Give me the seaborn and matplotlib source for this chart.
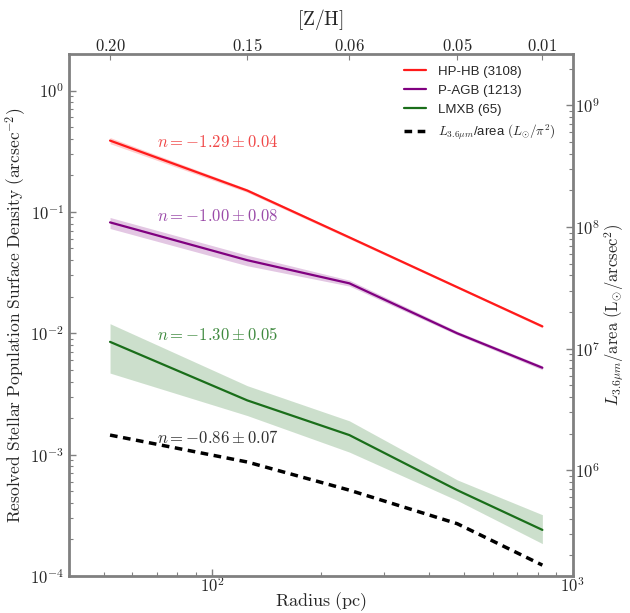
import numpy as np
import pandas as pd
import matplotlib
matplotlib.use('Agg')
import matplotlib.pyplot as plt
import seaborn as sns
from matplotlib.ticker import NullFormatter, NullLocator, FuncFormatter

# 数据
radius = [52, 125, 240, 478, 824]
zh_labels = ['0.20', '0.15', '0.06', '0.05', '0.01']

hphb = [0.387, 0.150, 0.0617, 0.024, 0.0114]
hphb_lo = [0.365, 0.145, 0.060, 0.0235, 0.0111]
hphb_hi = [0.410, 0.155, 0.063, 0.0245, 0.0117]

pagb = [0.082, 0.040, 0.0258, 0.0100, 0.0052]
pagb_lo = [0.073, 0.036, 0.0245, 0.0097, 0.0050]
pagb_hi = [0.090, 0.044, 0.0274, 0.0104, 0.0054]

lmxb = [0.0085, 0.0028, 0.00145, 0.00051, 0.00024]
lmxb_lo = [0.0047, 0.0021, 0.00105, 0.00042, 0.000185]
lmxb_hi = [0.0120, 0.0037, 0.0019, 0.00062, 0.00032]

lum = [0.00145, 0.00087, 0.00051, 0.00027, 0.000123]

slopes = ['$n=-1.29\\pm0.04$', '$n=-1.00\\pm0.08$', '$n=-1.30\\pm0.05$', '$n=-0.86\\pm0.07$']
slope_y = [0.38, 0.092, 0.0098, 0.00138]

sns.set_style('ticks')
plt.rcParams['font.family'] = ['Liberation Sans', 'DejaVu Sans']
plt.rcParams['mathtext.fontset'] = 'cm'

fig = plt.figure(figsize=(6.3, 6.13), dpi=100)
ax = fig.add_axes([0.1095, 0.0603, 0.7995, 0.8516])

# 数据表
df = pd.DataFrame({'r': radius, 'hphb': hphb, 'pagb': pagb, 'lmxb': lmxb, 'lum': lum})

series = [
    ('hphb', hphb_lo, hphb_hi, '#ff1a1a', 'HP-HB (3108)'),
    ('pagb', pagb_lo, pagb_hi, '#800080', 'P-AGB (1213)'),
    ('lmxb', lmxb_lo, lmxb_hi, '#1a6e1a', 'LMXB (65)'),
]
text_colors = ['#f04848', '#9a4aa8', '#3f8a3f', '#303030']

for col, lo, hi, c, lab in series:
    ax.fill_between(radius, lo, hi, color=c, alpha=0.22, linewidth=0)
    sns.lineplot(data=df, x='r', y=col, ax=ax, color=c, linewidth=1.6, label=lab)

sns.lineplot(data=df, x='r', y='lum', ax=ax, color='black', linewidth=2.5,
             linestyle=(0, (2.2, 1.6)), label='$L_{3.6\\mu m}$/area $(L_{\\odot}/\\pi^2)$')

for s, yv, c in zip(slopes, slope_y, text_colors):
    ax.text(70, yv, s, color=c, fontsize=12, va='center', ha='left')

ax.set_xscale('log')
ax.set_yscale('log')
ax.set_xlim(40, 1000)
ax.set_ylim(1e-4, 2)

# 刻度标签用数学字体
pow_fmt = FuncFormatter(lambda v, p: '$10^{%d}$' % int(round(np.log10(v))))
ax.xaxis.set_major_formatter(pow_fmt)
ax.yaxis.set_major_formatter(pow_fmt)
ax.xaxis.set_minor_formatter(NullFormatter())
ax.yaxis.set_minor_formatter(NullFormatter())

ax.set_xlabel('$\\mathrm{Radius\\ (pc)}$', fontsize=13, labelpad=-3)
ax.set_ylabel('$\\mathrm{Resolved\\ Stellar\\ Population\\ Surface\\ Density\\ (arcsec^{-2})}$',
              fontsize=12.5, labelpad=1)

gray = '#808080'
for sp in ax.spines.values():
    sp.set_color(gray)
    sp.set_linewidth(2)
ax.tick_params(which='both', direction='in', color=gray, labelsize=12, top=False, right=False)
ax.tick_params(axis='x', pad=0)
ax.tick_params(which='major', length=5, width=1)
ax.tick_params(which='minor', length=3, width=0.8)

leg = ax.legend(loc='upper right', frameon=False, fontsize=9.5, handlelength=1.7,
                handletextpad=0.9, borderaxespad=0.3, labelspacing=0.5,
                bbox_to_anchor=(0.985, 0.995))

# 右侧光度轴
ax2 = ax.twinx()
ax2.set_yscale('log')
ax2.set_ylim(1.35e5, 2.65e9)
ax2.yaxis.set_major_formatter(pow_fmt)
ax2.yaxis.set_minor_formatter(NullFormatter())
ax2.set_ylabel('$L_{3.6\\mu m}/\\mathrm{area}\\ (\\mathrm{L}_{\\odot}/\\mathrm{arcsec}^2)$',
               fontsize=12, labelpad=1)
ax2.tick_params(which='both', direction='in', color=gray, labelsize=12, pad=2)
ax2.tick_params(which='major', length=5, width=1)
ax2.tick_params(which='minor', length=3, width=0.8)
for sp in ax2.spines.values():
    sp.set_visible(False)

# 顶部金属丰度轴
ax3 = ax.twiny()
ax3.set_xscale('log')
ax3.set_xlim(40, 1000)
ax3.set_xticks(radius)
ax3.set_xticklabels(['$%s$' % z for z in zh_labels])
ax3.xaxis.set_minor_locator(NullLocator())
ax3.xaxis.set_minor_formatter(NullFormatter())
ax3.set_xlabel('$\\mathrm{[Z/H]}$', fontsize=14, labelpad=9)
ax3.tick_params(which='both', direction='in', color=gray, labelsize=12, length=4, pad=0)
for sp in ax3.spines.values():
    sp.set_visible(False)

fig.savefig('out.png', dpi=100)
